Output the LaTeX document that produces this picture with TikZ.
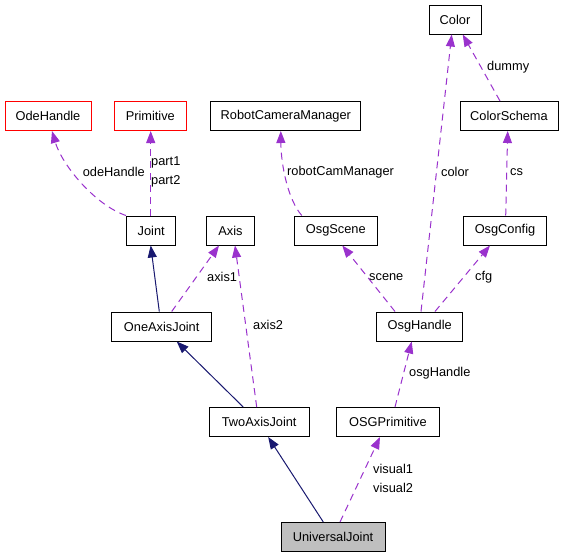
\documentclass[tikz,border=0pt]{standalone}
\usepackage{fontspec}
\setmainfont{Liberation Sans}
\usetikzlibrary{arrows.meta}
\definecolor{orch}{RGB}{154,50,205}
\definecolor{mnb}{RGB}{25,25,112}
\definecolor{gfill}{RGB}{191,191,191}
\begin{document}
\begin{tikzpicture}[x=1pt,y=-1pt,
  cls/.style={draw=black,line width=1pt,minimum height=29pt,inner sep=0pt,font=\fontsize{12.8}{15}\selectfont},
  redcls/.style={cls,draw=red},
  use/.style={draw=orch,line width=1pt,dash pattern=on 7pt off 5pt,-{Triangle[length=12pt,width=9pt,fill=orch]}},
  inh/.style={draw=mnb,line width=1pt,-{Triangle[length=12pt,width=9pt,fill=mnb]}},
  lbl/.style={inner sep=0pt,anchor=west,font=\fontsize{12.8}{15}\selectfont}]
\useasboundingbox[fill=white] (0,0) rectangle (564,557);
% nodes
\node[cls,minimum width=52pt] (color) at (455,19.5) {Color};
\node[cls,minimum width=98pt] (cschema) at (509,116) {ColorSchema};
\node[redcls,minimum width=86pt] (ode) at (48,116) {OdeHandle};
\node[redcls,minimum width=72pt] (prim) at (150.3,116) {Primitive};
\node[cls,minimum width=150pt] (rcm) at (285.8,116) {RobotCameraManager};
\node[cls,minimum width=49.5pt] (joint) at (151.2,230.5) {Joint};
\node[cls,minimum width=47.6pt] (axis) at (230.5,230.5) {Axis};
\node[cls,minimum width=83pt] (scene) at (335.8,230.5) {OsgScene};
\node[cls,minimum width=83.4pt] (cfg) at (505,230.5) {OsgConfig};
\node[cls,minimum width=100pt] (oaj) at (161.7,326.5) {OneAxisJoint};
\node[cls,minimum width=86pt] (osgh) at (419.7,326.5) {OsgHandle};
\node[cls,minimum width=100pt] (taj) at (259.2,422) {TwoAxisJoint};
\node[cls,minimum width=102.6pt] (osgp) at (388,422) {OSGPrimitive};
\node[cls,minimum width=104pt,fill=gfill] (uj) at (333,537) {UniversalJoint};
% edges
\draw[use] (joint.north west) .. controls (95,205) and (62,165) .. ([xshift=4pt]ode.south);
\draw[use] ([xshift=-0.5pt]joint.north) -- ([xshift=0.4pt]prim.south);
\draw[inh] ([xshift=-2.4pt]oaj.north) -- ([xshift=-0.5pt]joint.south);
\draw[use] ([xshift=10pt]oaj.north) -- ([xshift=-11.5pt]axis.south);
\draw[use] ([xshift=-2.5pt]taj.north) -- ([xshift=4.5pt]axis.south);
\draw[inh] ([xshift=-16pt]taj.north) -- ([xshift=15pt]oaj.south);
\draw[inh] ([xshift=-9.7pt]uj.north) -- ([xshift=9pt]taj.south);
\draw[use] ([xshift=7pt]uj.north) -- ([xshift=-8pt]osgp.south);
\draw[use] ([xshift=7pt]osgp.north) -- ([xshift=-8pt]osgh.south);
\draw[use] ([xshift=-24.7pt]osgh.north) -- ([xshift=6.5pt]scene.south);
\draw[use] ([xshift=1.3pt]osgh.north) -- ([xshift=-3.3pt]color.south);
\draw[use] ([xshift=15.3pt]osgh.north) -- ([xshift=-15pt]cfg.south);
\draw[use] ([xshift=0.7pt]cfg.north) -- ([xshift=-1.3pt]cschema.south);
\draw[use] ([xshift=-9pt]cschema.north) -- ([xshift=7.7pt]color.south);
\draw[use] ([xshift=-34pt]scene.north) .. controls (288,200) and (281,165) .. ([xshift=-5pt]rcm.south);
% labels
\node[lbl,anchor=east] (l1) at (145,172) {odeHandle};
\node[lbl] (l2) at (151,162) {part1};
\node[lbl] (l3) at (151,181) {part2};
\node[lbl] (l4) at (207,277) {axis1};
\node[lbl] (l5) at (253,325) {axis2};
\node[lbl] (l6) at (373,469) {visual1};
\node[lbl] (l7) at (373,488) {visual2};
\node[lbl] (l8) at (409,373) {osgHandle};
\node[lbl] (l9) at (369,277) {scene};
\node[lbl] (l10) at (475,277) {cfg};
\node[lbl] (l11) at (441,172) {color};
\node[lbl] (l12) at (510,172) {cs};
\node[lbl] (l13) at (487,67) {dummy};
\node[lbl] (l14) at (287,172) {robotCamManager};
\end{tikzpicture}
\end{document}
